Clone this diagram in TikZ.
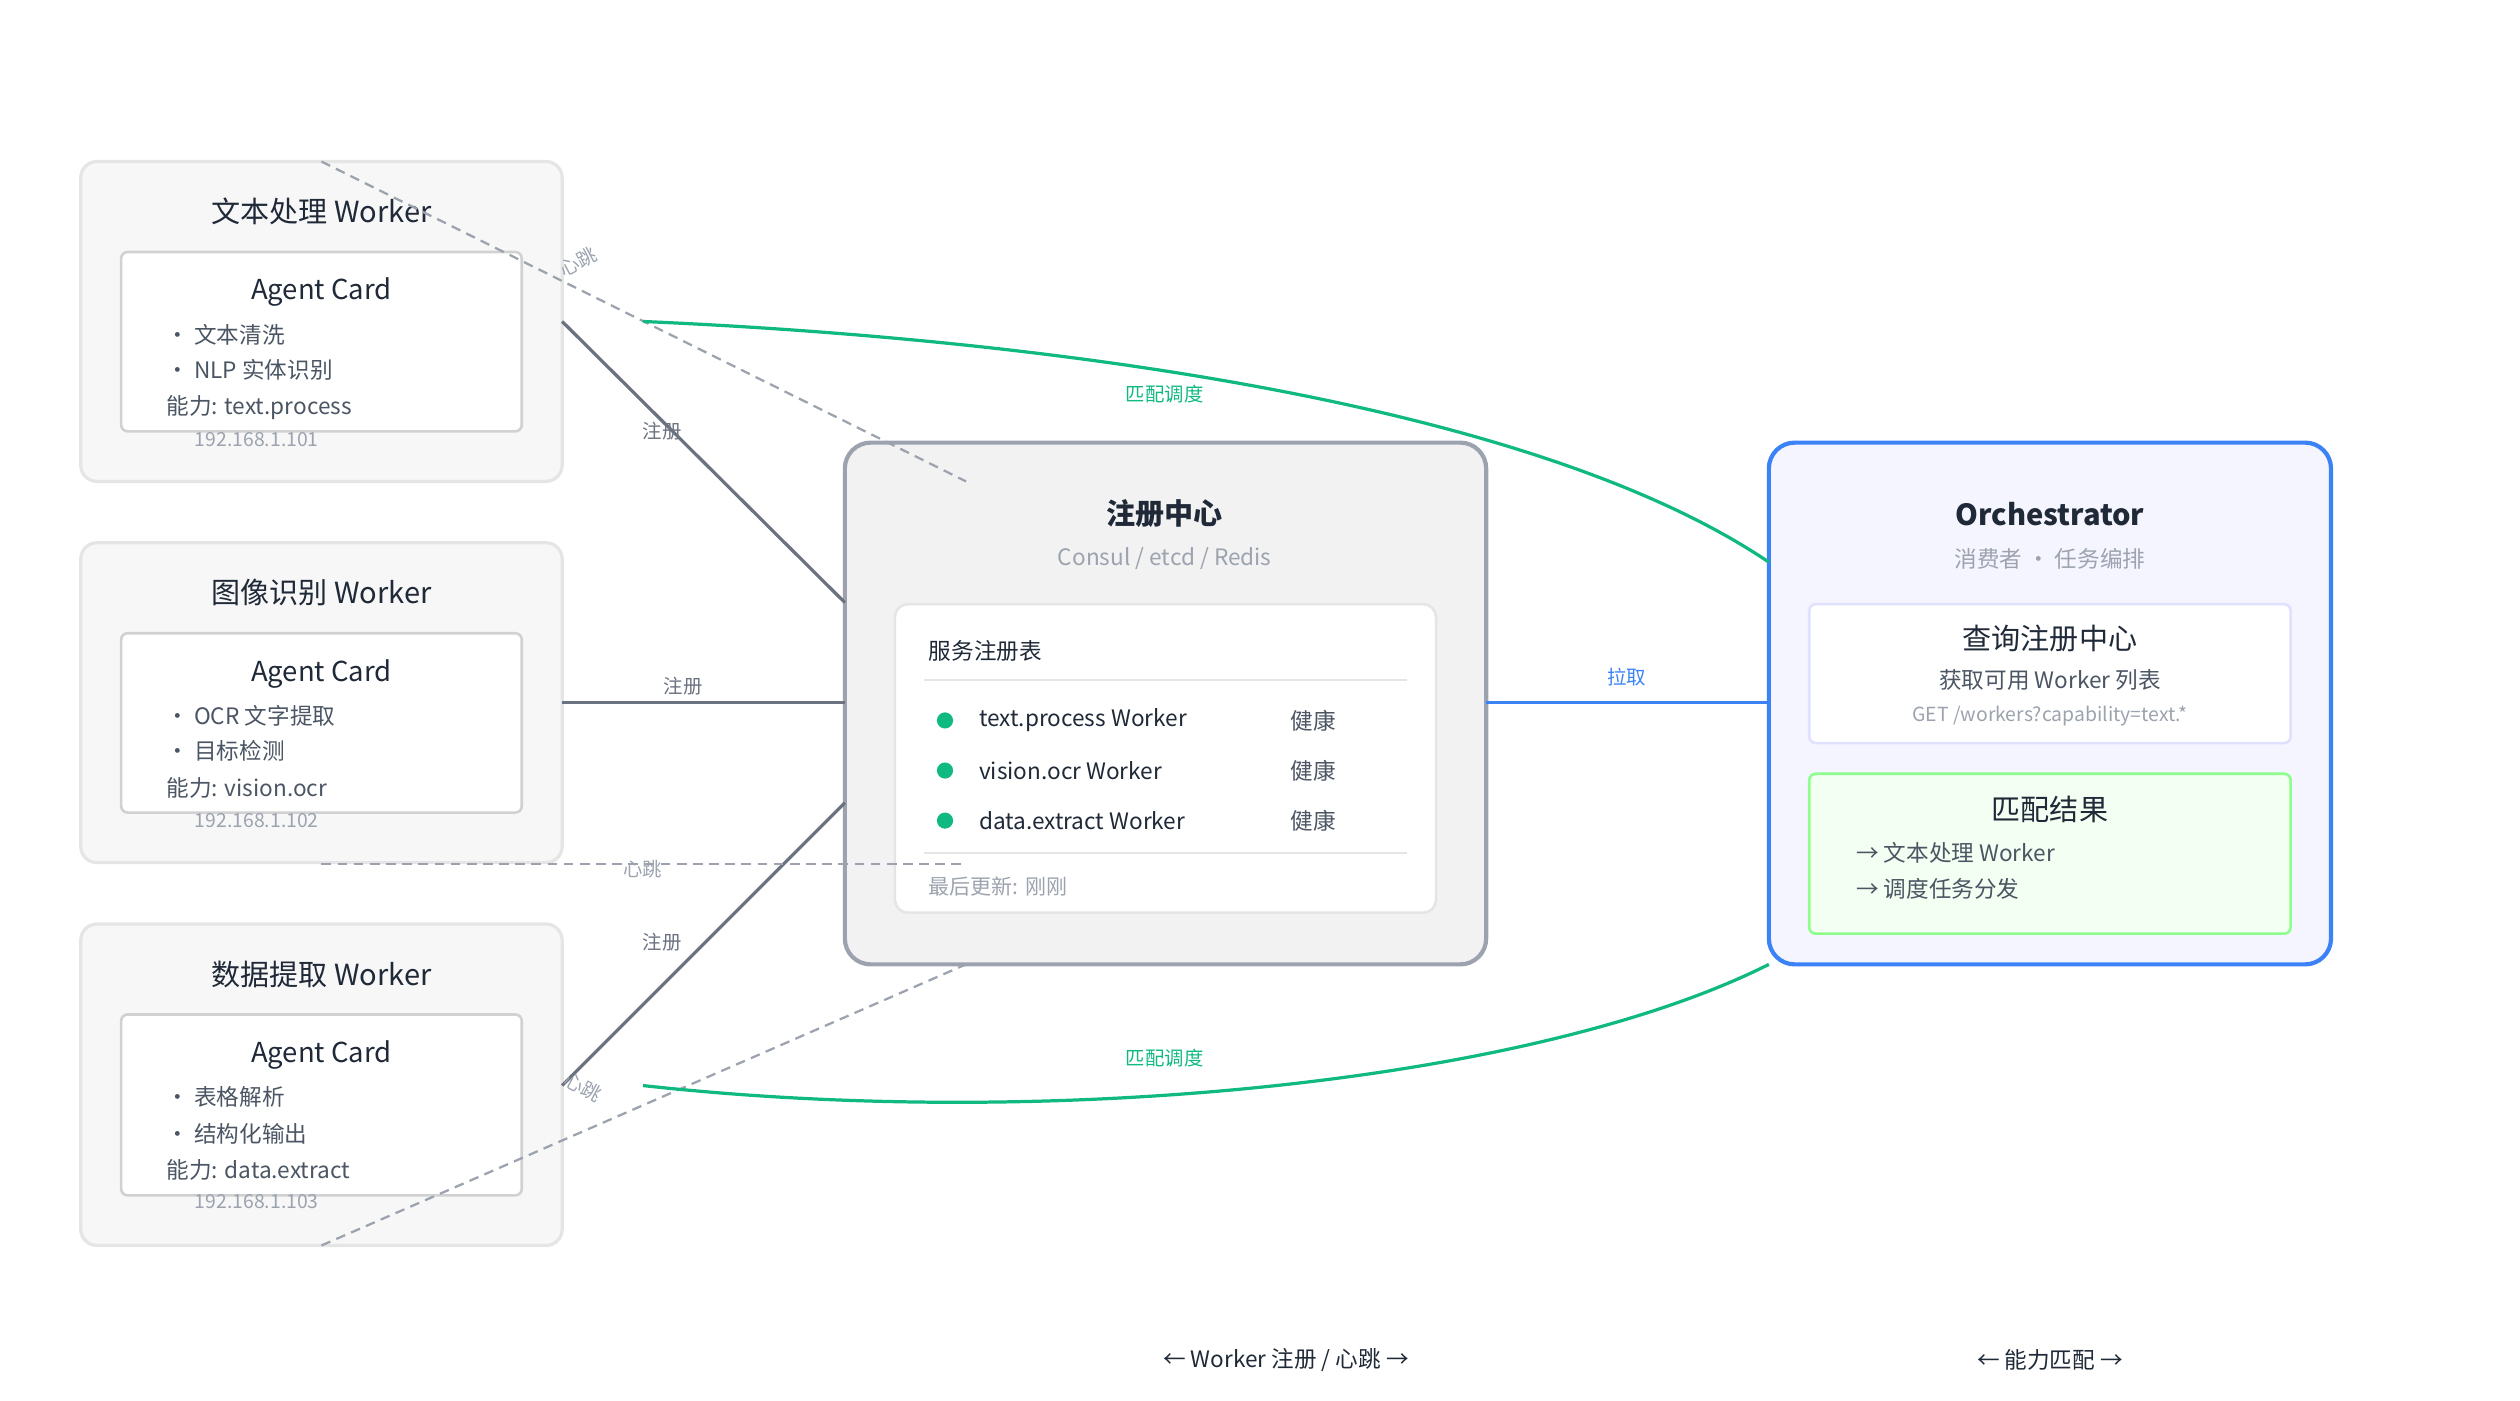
\documentclass[tikz,border=0pt]{standalone}
\usepackage{fontspec}
\setmainfont{Noto Sans CJK SC}
\usetikzlibrary{positioning}
\definecolor{ink}{HTML}{1F2937}
\definecolor{txt}{HTML}{4B5563}
\definecolor{mute}{HTML}{9CA3AF}
\definecolor{edge}{HTML}{6B7280}
\definecolor{okgreen}{HTML}{10B981}
\definecolor{pullblue}{HTML}{3B82F6}
\tikzset{
  worker/.style={draw=black!10, fill=black!3, line width=1pt, rounded corners=5pt},
  card/.style={draw=black!18, fill=white, line width=0.8pt, rounded corners=2pt},
  reg/.style={line width=1pt, draw=edge},
  beat/.style={dash pattern=on 3pt off 2pt, draw=mute, line width=0.7pt},
  match/.style={draw=okgreen, line width=1pt},
  lbl/.style={font=\fontsize{6}{7}\selectfont, text=edge},
  ttl/.style={font=\fontsize{9}{10}\selectfont, text=ink},
  item/.style={font=\fontsize{7}{8}\selectfont, text=txt, anchor=west},
  ip/.style={font=\fontsize{6}{7}\selectfont, text=mute},
}
\begin{document}
\begin{tikzpicture}[x=0.5pt, y=-0.5pt]
\useasboundingbox (0,0) rectangle (1560,867);
% worker boxes
\draw[worker] (50,100) rectangle (348,298);
\draw[worker] (50,336) rectangle (348,534);
\draw[worker] (50,572) rectangle (348,771);
\draw[card] (75,156) rectangle (323,267);
\draw[card] (75,392) rectangle (323,503);
\draw[card] (75,628) rectangle (323,740);
\node[ttl] (t1) at (199,131) {文本处理 Worker};
\node[ttl] (t2) at (199,367) {图像识别 Worker};
\node[ttl] (t3) at (199,603) {数据提取 Worker};
\node[ttl, font=\fontsize{8.5}{10}\selectfont] (c1) at (199,181) {Agent Card};
\node[ttl, font=\fontsize{8.5}{10}\selectfont] (c2) at (199,417) {Agent Card};
\node[ttl, font=\fontsize{8.5}{10}\selectfont] (c3) at (199,653) {Agent Card};
\node[item] (a1) at (96,207) {· 文本清洗};
\node[item] (a2) at (96,229) {· NLP 实体识别};
\node[item] (a3) at (96,252) {能力: text.process};
\node[ip] (ip1) at (159,272) {192.168.1.101};
\node[item] (b1) at (96,443) {· OCR 文字提取};
\node[item] (b2) at (96,465) {· 目标检测};
\node[item] (b3) at (96,488) {能力: vision.ocr};
\node[ip] (ip2) at (159,508) {192.168.1.102};
\node[item] (d1) at (96,679) {· 表格解析};
\node[item] (d2) at (96,702) {· 结构化输出};
\node[item] (d3) at (96,724) {能力: data.extract};
\node[ip] (ip3) at (159,744) {192.168.1.103};
% registry
\draw[draw=mute, fill=black!5, line width=1.3pt, rounded corners=8pt] (523,274) rectangle (920,597);
\node[ttl, font=\fontsize{9}{10}\selectfont\bfseries] (rt) at (721,318) {注册中心};
\node[ip, font=\fontsize{7}{8}\selectfont] (rs) at (721,346) {Consul / etcd / Redis};
\draw[draw=black!10, fill=white, line width=0.8pt, rounded corners=4pt] (554,374) rectangle (889,565);
\node[item, text=ink] (tb) at (568,403) {服务注册表};
\draw[black!10, line width=0.8pt] (572,421) -- (871,421);
\draw[black!10, line width=0.8pt] (572,528) -- (871,528);
\foreach \y/\name [count=\i] in {446/text.process Worker, 477/vision.ocr Worker, 508/data.extract Worker}{
  \fill[okgreen] (585,\y) circle (2.5pt);
  \node[item, text=ink] (r\i) at (599,\y) {\name};
  \node[item] (h\i) at (792,\y) {健康};
}
\node[item, text=mute, font=\fontsize{6.5}{7}\selectfont] (lu) at (568,549) {最后更新: 刚刚};
% orchestrator
\draw[draw=pullblue, fill=blue!4, line width=1.3pt, rounded corners=8pt] (1095,274) rectangle (1443,597);
\node[ttl, font=\fontsize{9}{10}\selectfont\bfseries] (ot) at (1269,318) {Orchestrator};
\node[ip, font=\fontsize{7}{8}\selectfont] (os) at (1269,346) {消费者 · 任务编排};
\draw[draw=blue!12, fill=white, line width=0.8pt, rounded corners=2pt] (1120,374) rectangle (1418,460);
\node[ttl] (q1) at (1269,395) {查询注册中心};
\node[item, anchor=center] (q2) at (1269,421) {获取可用 Worker 列表};
\node[ip] (q3) at (1269,443) {GET /workers?capability=text.*};
\draw[draw=green!45, fill=green!5, line width=0.8pt, rounded corners=2pt] (1120,479) rectangle (1418,578);
\node[ttl] (m1) at (1269,501) {匹配结果};
\node[item] (m2) at (1142,528) {→ 文本处理 Worker};
\node[item] (m3) at (1142,550) {→ 调度任务分发};
% anchor points
\coordinate (w1) at (348,199);
\coordinate (w2) at (348,435);
\coordinate (w3) at (348,672);
\coordinate (g1) at (523,373);
\coordinate (g2) at (523,435);
\coordinate (g3) at (523,497);
\coordinate (hb1) at (199,100);
\coordinate (hb2) at (199,535);
\coordinate (hb3) at (199,771);
\coordinate (he1) at (598,298);
\coordinate (he2) at (598,535);
\coordinate (he3) at (598,597);
\coordinate (ge) at (920,435);
\coordinate (oe) at (1095,435);
\coordinate (s1) at (398,199);
\coordinate (s3) at (398,672);
\coordinate (o1) at (1095,348);
\coordinate (o3) at (1095,597);
% connectors
\draw[reg] (w1) -- (g1);
\draw[reg] (w2) -- (g2);
\draw[reg] (w3) -- (g3);
\node[lbl] (l1) at (410,267) {注册};
\node[lbl] (l2) at (423,425) {注册};
\node[lbl] (l3) at (410,583) {注册};
\draw[beat] (hb1) -- (he1);
\draw[beat] (hb2) -- (he2);
\draw[beat] (hb3) -- (he3);
\node[lbl, text=mute, rotate=28] (l4) at (358,162) {心跳};
\node[lbl, text=mute] (l5) at (398,538) {心跳};
\node[lbl, text=mute, rotate=-28] (l6) at (361,673) {心跳};
\draw[pullblue, line width=1pt] (ge) -- (oe);
\node[lbl, text=pullblue] (lp) at (1007,419) {拉取};
\draw[match] (s1) .. controls (650,210) and (950,250) .. (o1);
\draw[match] (s3) .. controls (650,700) and (950,670) .. (o3);
\node[lbl, text=okgreen] (lm1) at (721,244) {匹配调度};
\node[lbl, text=okgreen] (lm2) at (721,655) {匹配调度};
% footer
\node[item, anchor=center, text=ink] (f1) at (796,842) {← Worker 注册 / 心跳 →};
\node[item, anchor=center, text=ink] (f2) at (1269,842) {← 能力匹配 →};
\end{tikzpicture}
\end{document}
